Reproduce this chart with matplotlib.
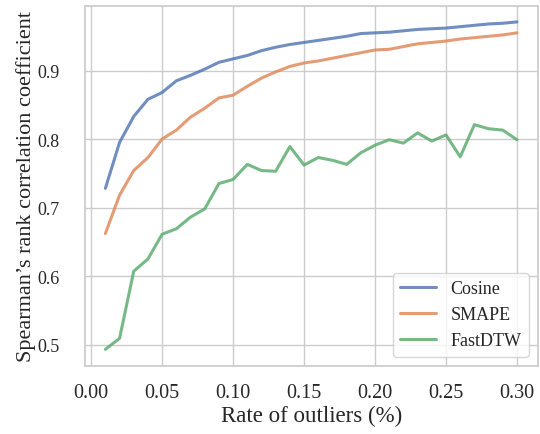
import numpy as np
import matplotlib
matplotlib.use("Agg")
import matplotlib.pyplot as plt
import seaborn as sns

rates = np.round(np.arange(1, 31) * 0.01, 2)

cosine = [0.728, 0.795, 0.833, 0.858, 0.868, 0.885, 0.893, 0.902, 0.912, 0.917,
          0.922, 0.929, 0.934, 0.938, 0.941, 0.944, 0.947, 0.950, 0.954, 0.955,
          0.956, 0.958, 0.960, 0.961, 0.962, 0.964, 0.966, 0.968, 0.969, 0.971]
smape = [0.662, 0.718, 0.754, 0.773, 0.800, 0.813, 0.832, 0.845, 0.860, 0.864,
         0.877, 0.889, 0.898, 0.906, 0.911, 0.914, 0.918, 0.922, 0.926, 0.930,
         0.931, 0.935, 0.939, 0.941, 0.943, 0.946, 0.948, 0.950, 0.952, 0.955]
fastdtw = [0.493, 0.509, 0.607, 0.625, 0.661, 0.669, 0.686, 0.698, 0.735, 0.741,
           0.763, 0.754, 0.753, 0.789, 0.762, 0.773, 0.769, 0.763, 0.780, 0.791,
           0.799, 0.794, 0.809, 0.797, 0.806, 0.774, 0.821, 0.815, 0.813, 0.799]

series = {"Cosine": cosine, "SMAPE": smape, "FastDTW": fastdtw}

sns.set_theme(style="whitegrid")
plt.rcParams['font.family'] = ['Liberation Serif', 'DejaVu Serif']

fig, ax = plt.subplots(figsize=(5.4, 4.35), dpi=100)
fig.subplots_adjust(left=0.157, right=0.9955, top=0.985, bottom=0.157)

palette = sns.color_palette("deep")
for (name, vals), c in zip(series.items(), palette):
    ax.plot(rates, vals, color=c, lw=2.2, alpha=0.8, label=name)

ax.set_xticks([0.0, 0.05, 0.10, 0.15, 0.20, 0.25, 0.30])
ax.set_yticks([0.5, 0.6, 0.7, 0.8, 0.9])
ax.tick_params(axis="x", labelsize=14.5, pad=6.5)
ax.tick_params(axis="y", labelsize=13, pad=12)
ax.set_xlabel("Rate of outliers (%)", fontsize=16.5, labelpad=2)
ax.set_ylabel("Spearman’s rank correlation coefficient", fontsize=16, labelpad=1)
ax.legend(loc="lower right", fontsize=13)

fig.savefig("out.png")
